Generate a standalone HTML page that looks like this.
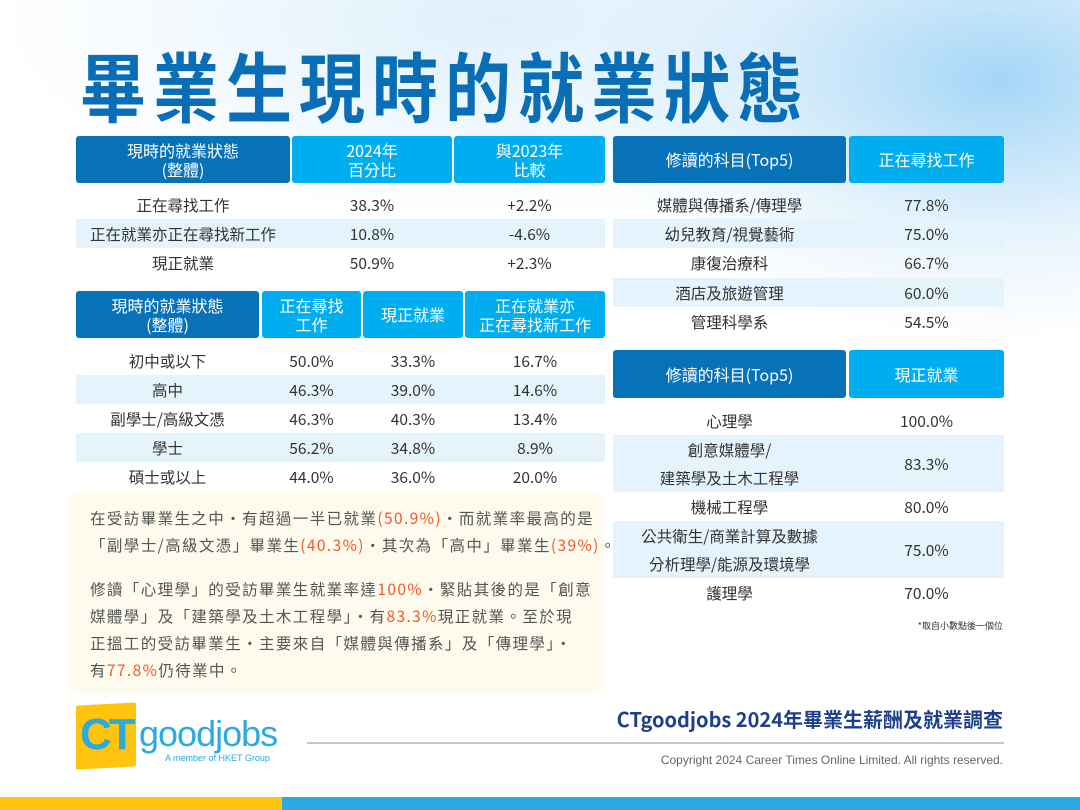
<!DOCTYPE html>
<html><head><meta charset="utf-8">
<style>
*{margin:0;padding:0;box-sizing:border-box}
body{width:1080px;height:810px;position:relative;overflow:hidden;background:#fff;font-family:"Noto Sans CJK TC","Liberation Sans",sans-serif;color:#333}
.bg{position:absolute;left:0;top:0;width:1080px;height:420px;background:
radial-gradient(ellipse 420px 260px at 1000px 80px,rgba(90,180,240,.55),rgba(160,210,245,.25) 60%,rgba(255,255,255,0) 100%),
radial-gradient(ellipse 500px 200px at 500px 20px,rgba(190,225,248,.5),rgba(255,255,255,0) 100%)}
.a{position:absolute;display:flex;align-items:center;justify-content:center;text-align:center}
.hd{color:#fff;font-size:16px;line-height:19px;border-radius:3px}
.d{background:#0872b9}.l{background:#00aeef}
.c{font-size:15.5px;color:#333;line-height:20px}
.sh{position:absolute;background:#e5f3fc}
.t{position:absolute;font-size:15.5px;color:#555;line-height:27px;left:90px;white-space:nowrap;letter-spacing:1.4px}
.o{color:#f15a29}
</style></head><body>
<div class="bg"></div>
<div style="position:absolute;left:80px;top:36px;font-size:66px;font-weight:bold;color:#0a6eb6;letter-spacing:7px;line-height:84px;transform:scaleY(1.15);transform-origin:left top;white-space:nowrap">畢業生現時的就業狀態</div>

<!-- table 1 -->
<div class="a hd d" style="left:76px;top:136px;width:214px;height:47px">現時的就業狀態<br>(整體)</div>
<div class="a hd l" style="left:292px;top:136px;width:160px;height:47px">2024年<br>百分比</div>
<div class="a hd l" style="left:454px;top:136px;width:151px;height:47px">與2023年<br>比較</div>
<div class="sh" style="left:76px;top:219px;width:529px;height:29px"></div>
<div class="a c" style="left:76px;top:190px;width:214px;height:29px">正在尋找工作</div>
<div class="a c" style="left:292px;top:190px;width:160px;height:29px">38.3%</div>
<div class="a c" style="left:454px;top:190px;width:151px;height:29px">+2.2%</div>
<div class="a c" style="left:72px;top:219px;width:222px;height:29px">正在就業亦正在尋找新工作</div>
<div class="a c" style="left:292px;top:219px;width:160px;height:29px">10.8%</div>
<div class="a c" style="left:454px;top:219px;width:151px;height:29px">-4.6%</div>
<div class="a c" style="left:76px;top:248px;width:214px;height:29px">現正就業</div>
<div class="a c" style="left:292px;top:248px;width:160px;height:29px">50.9%</div>
<div class="a c" style="left:454px;top:248px;width:151px;height:29px">+2.3%</div>

<!-- table 2 -->
<div class="a hd d" style="left:76px;top:291px;width:183px;height:47px">現時的就業狀態<br>(整體)</div>
<div class="a hd l" style="left:262px;top:291px;width:99px;height:47px">正在尋找<br>工作</div>
<div class="a hd l" style="left:363px;top:291px;width:100px;height:47px">現正就業</div>
<div class="a hd l" style="left:465px;top:291px;width:140px;height:47px">正在就業亦<br>正在尋找新工作</div>
<div class="sh" style="left:76px;top:375px;width:529px;height:29px"></div>
<div class="sh" style="left:76px;top:433px;width:529px;height:29px"></div>
<div class="a c" style="left:76px;top:346px;width:183px;height:29px">初中或以下</div>
<div class="a c" style="left:262px;top:346px;width:99px;height:29px">50.0%</div>
<div class="a c" style="left:363px;top:346px;width:100px;height:29px">33.3%</div>
<div class="a c" style="left:465px;top:346px;width:140px;height:29px">16.7%</div>
<div class="a c" style="left:76px;top:375px;width:183px;height:29px">高中</div>
<div class="a c" style="left:262px;top:375px;width:99px;height:29px">46.3%</div>
<div class="a c" style="left:363px;top:375px;width:100px;height:29px">39.0%</div>
<div class="a c" style="left:465px;top:375px;width:140px;height:29px">14.6%</div>
<div class="a c" style="left:76px;top:404px;width:183px;height:29px">副學士/高級文憑</div>
<div class="a c" style="left:262px;top:404px;width:99px;height:29px">46.3%</div>
<div class="a c" style="left:363px;top:404px;width:100px;height:29px">40.3%</div>
<div class="a c" style="left:465px;top:404px;width:140px;height:29px">13.4%</div>
<div class="a c" style="left:76px;top:433px;width:183px;height:29px">學士</div>
<div class="a c" style="left:262px;top:433px;width:99px;height:29px">56.2%</div>
<div class="a c" style="left:363px;top:433px;width:100px;height:29px">34.8%</div>
<div class="a c" style="left:465px;top:433px;width:140px;height:29px">8.9%</div>
<div class="a c" style="left:76px;top:462px;width:183px;height:29px">碩士或以上</div>
<div class="a c" style="left:262px;top:462px;width:99px;height:29px">44.0%</div>
<div class="a c" style="left:363px;top:462px;width:100px;height:29px">36.0%</div>
<div class="a c" style="left:465px;top:462px;width:140px;height:29px">20.0%</div>

<!-- text box -->
<div style="position:absolute;left:70px;top:494px;width:532px;height:198px;background:#fdfbee;border-radius:10px;box-shadow:0 0 8px #fbf7e4"></div>
<div class="t" style="top:505px">在受訪畢業生之中・有超過一半已就業<span class="o">(50.9%)</span>・而就業率最高的是<br>「副學士/高級文憑」畢業生<span class="o">(40.3%)</span>・其次為「高中」畢業生<span class="o">(39%)</span>。</div>
<div class="t" style="top:576px">修讀「心理學」的受訪畢業生就業率達<span class="o">100%</span>・緊貼其後的是「創意<br>媒體學」及「建築學及土木工程學」・有<span class="o">83.3%</span>現正就業。至於現<br>正搵工的受訪畢業生・主要來自「媒體與傳播系」及「傳理學」・<br>有<span class="o">77.8%</span>仍待業中。</div>

<!-- right table 1 -->
<div class="a hd d" style="left:613px;top:136px;width:233px;height:47px">修讀的科目(Top5)</div>
<div class="a hd l" style="left:849px;top:136px;width:155px;height:47px">正在尋找工作</div>
<div class="sh" style="left:613px;top:219px;width:391px;height:29px"></div>
<div class="sh" style="left:613px;top:278px;width:391px;height:29px"></div>
<div class="a c" style="left:613px;top:190px;width:233px;height:29px">媒體與傳播系/傳理學</div>
<div class="a c" style="left:849px;top:190px;width:155px;height:29px">77.8%</div>
<div class="a c" style="left:613px;top:219px;width:233px;height:29px">幼兒教育/視覺藝術</div>
<div class="a c" style="left:849px;top:219px;width:155px;height:29px">75.0%</div>
<div class="a c" style="left:613px;top:248px;width:233px;height:30px">康復治療科</div>
<div class="a c" style="left:849px;top:248px;width:155px;height:30px">66.7%</div>
<div class="a c" style="left:613px;top:278px;width:233px;height:29px">酒店及旅遊管理</div>
<div class="a c" style="left:849px;top:278px;width:155px;height:29px">60.0%</div>
<div class="a c" style="left:613px;top:307px;width:233px;height:29px">管理科學系</div>
<div class="a c" style="left:849px;top:307px;width:155px;height:29px">54.5%</div>

<!-- right table 2 -->
<div class="a hd d" style="left:613px;top:350px;width:233px;height:48px">修讀的科目(Top5)</div>
<div class="a hd l" style="left:849px;top:350px;width:155px;height:48px">現正就業</div>
<div class="sh" style="left:613px;top:435px;width:391px;height:57px"></div>
<div class="sh" style="left:613px;top:521px;width:391px;height:57px"></div>
<div class="a c" style="left:613px;top:406px;width:233px;height:29px">心理學</div>
<div class="a c" style="left:849px;top:406px;width:155px;height:29px">100.0%</div>
<div class="a c" style="left:613px;top:435px;width:233px;height:57px;line-height:28px">創意媒體學/<br>建築學及土木工程學</div>
<div class="a c" style="left:849px;top:435px;width:155px;height:57px">83.3%</div>
<div class="a c" style="left:613px;top:492px;width:233px;height:29px">機械工程學</div>
<div class="a c" style="left:849px;top:492px;width:155px;height:29px">80.0%</div>
<div class="a c" style="left:613px;top:521px;width:233px;height:57px;line-height:28px">公共衛生/商業計算及數據<br>分析理學/能源及環境學</div>
<div class="a c" style="left:849px;top:521px;width:155px;height:57px">75.0%</div>
<div class="a c" style="left:613px;top:578px;width:233px;height:30px">護理學</div>
<div class="a c" style="left:849px;top:578px;width:155px;height:30px">70.0%</div>
<div style="position:absolute;right:77px;top:619px;font-size:9px;color:#333">*取自小數點後一個位</div>

<!-- footer -->
<div style="position:absolute;left:76px;top:704px;width:60px;height:64px;background:#fec40e;transform:skewY(-3deg);border-radius:2px"></div>
<div style="position:absolute;left:80px;top:710px;font-family:'Liberation Sans',sans-serif;font-size:44px;font-weight:bold;color:#29abe2;letter-spacing:-3px;line-height:50px">CT</div>
<div style="position:absolute;left:139px;top:712px;font-family:'Liberation Sans',sans-serif;font-size:36px;color:#29abe2;line-height:44px;letter-spacing:-1px">goodjobs</div>
<div style="position:absolute;left:165px;top:753px;font-family:'Liberation Sans',sans-serif;font-size:9px;color:#29abe2">A member of HKET Group</div>
<div style="position:absolute;right:77px;top:705px;font-size:20px;color:#1e3f8a;font-weight:bold;line-height:28px">CTgoodjobs 2024年畢業生薪酬及就業調查</div>
<div style="position:absolute;left:307px;top:742px;width:697px;height:2px;background:#c8c8c8"></div>
<div style="position:absolute;right:77px;top:753px;font-family:'Liberation Sans',sans-serif;font-size:12px;color:#666">Copyright 2024 Career Times Online Limited. All rights reserved.</div>
<div style="position:absolute;left:0;top:797px;width:282px;height:13px;background:#fec40e"></div>
<div style="position:absolute;left:282px;top:797px;width:798px;height:13px;background:#29abe2"></div>
</body></html>
